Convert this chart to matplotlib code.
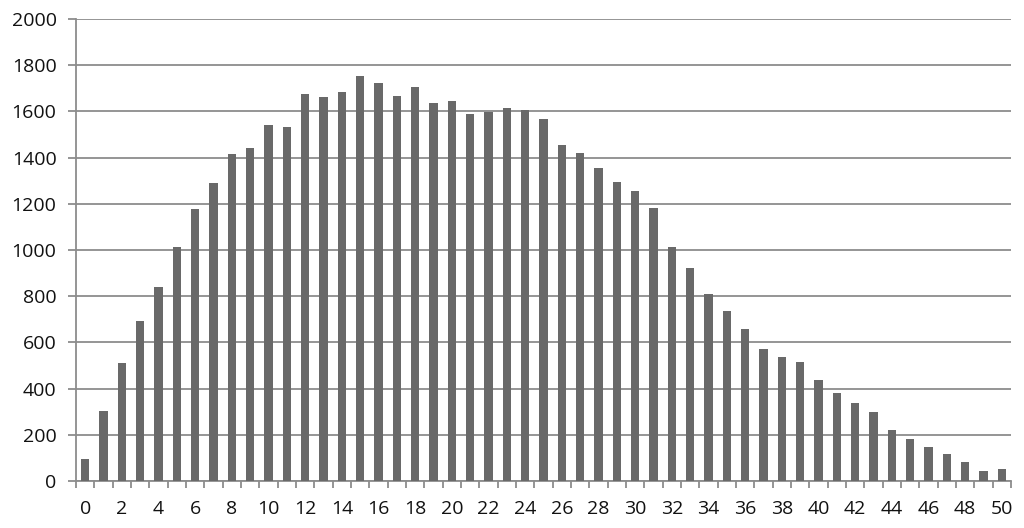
import matplotlib
matplotlib.use('Agg')
import matplotlib.pyplot as plt
from matplotlib.ticker import MultipleLocator

plt.rcParams['font.family'] = ['Open Sans', 'DejaVu Sans']

categories = list(range(51))
counts = [95, 305, 509, 694, 841, 1011, 1178, 1289, 1415, 1440,
          1540, 1533, 1674, 1663, 1684, 1753, 1722, 1667, 1705, 1636,
          1645, 1590, 1597, 1616, 1607, 1567, 1456, 1420, 1357, 1296,
          1255, 1183, 1011, 924, 810, 735, 660, 572, 538, 513,
          438, 380, 337, 300, 220, 182, 148, 119, 81, 44, 52]
y_ticks = list(range(0, 2001, 200))
x_labels = [str(c) for c in categories[::2]]

fig = plt.figure(figsize=(10.24, 5.28), dpi=100)
ax = fig.add_axes([76 / 1024, 47 / 528, 935 / 1024, 462 / 528])

ax.bar(categories, counts, width=0.44, color='#696969', zorder=3)

ax.set_xlim(-0.5, 50.5)
ax.set_ylim(0, 2000)
ax.set_yticks(y_ticks)
ax.set_xticks(categories[::2])
ax.set_xticklabels(x_labels)
ax.xaxis.set_minor_locator(MultipleLocator(1, offset=0.5))

ax.grid(axis='y', color='#8c8c8c', linewidth=1.3, zorder=0)
for side in ['top', 'right']:
    ax.spines[side].set_visible(False)
for side in ['left', 'bottom']:
    ax.spines[side].set_color('#8c8c8c')
    ax.spines[side].set_linewidth(1.3)

ax.tick_params(axis='y', length=6, width=1.3, color='#8c8c8c', pad=8,
               labelsize=14, labelcolor='#111111')
ax.tick_params(axis='x', which='major', length=0, pad=14,
               labelsize=14, labelcolor='#111111')
ax.tick_params(axis='x', which='minor', length=5, width=1.3, color='#8c8c8c')

fig.savefig('out.png', dpi=100)
